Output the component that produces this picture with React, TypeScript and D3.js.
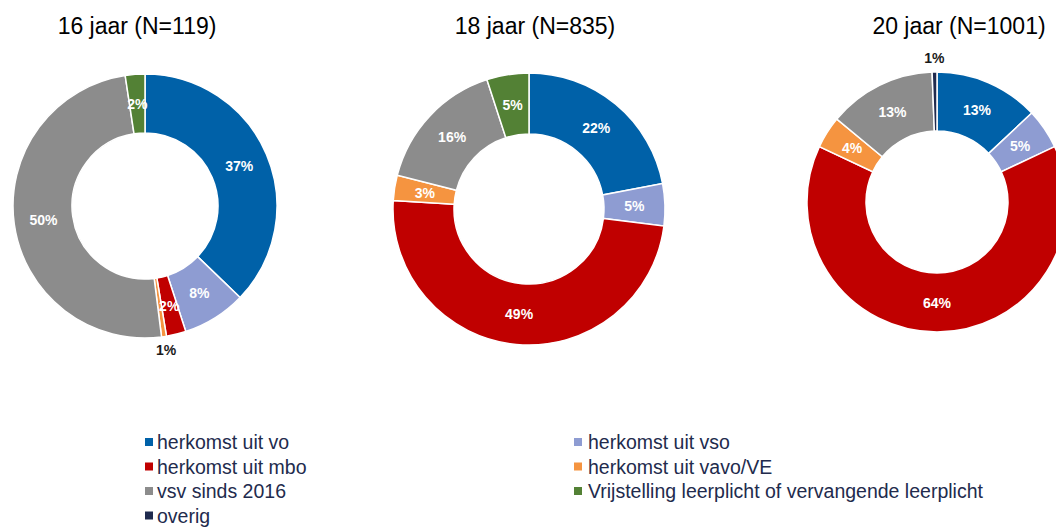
import React, { useEffect } from "react";
import * as d3 from "d3";

const categories = [
  "herkomst uit vo",
  "herkomst uit vso",
  "herkomst uit mbo",
  "herkomst uit vavo/VE",
  "vsv sinds 2016",
  "Vrijstelling leerplicht of vervangende leerplicht",
  "overig",
];
const colors = ["#0061A8", "#8E9CD2", "#C00000", "#F59440", "#8C8C8C", "#538135", "#1F2A4E"];
const titles = ["16 jaar (N=119)", "18 jaar (N=835)", "20 jaar (N=1001)"];
const values16 = [37.2, 7.8, 2.4, 0.6, 49.6, 2.4, 0];
const values18 = [22, 5, 49, 3, 16, 5, 0];
const values20 = [13, 5, 64, 4, 13.4, 0, 0.6];
const seriesValues = [values16, values18, values20];

const layout = [
  { cx: 145, cy: 206, r: 132, ri: 73, tx: 137 },
  { cx: 529, cy: 209, r: 136, ri: 75, tx: 535 },
  { cx: 937, cy: 202, r: 130, ri: 71, tx: 959 },
];

const legendCol1 = [0, 2, 4, 6];
const legendCol2 = [1, 3, 5];

export default function App() {
  useEffect(() => {
    document.body.style.margin = "0";
  }, []);
  const W = 1056;
  const H = 528;
  const pie = d3.pie<number>().sort(null).value((d) => d);

  return (
    <svg width={W} height={H} style={{ display: "block", background: "#fff" }} fontFamily="'Liberation Sans', Arial, sans-serif">
      {seriesValues.map((vals, ci) => {
        const L = layout[ci];
        const arcs = pie(vals);
        const arc = d3.arc<d3.PieArcDatum<number>>().innerRadius(L.ri).outerRadius(L.r);
        const outArc = d3.arc<d3.PieArcDatum<number>>().innerRadius(L.r + 14).outerRadius(L.r + 14);
        return (
          <g key={ci}>
            <text x={L.tx} y={34} textAnchor="middle" fontSize={23} fill="#000">
              {titles[ci]}
            </text>
            <g transform={`translate(${L.cx},${L.cy})`}>
              {arcs.map((a, i) =>
                a.value > 0 ? (
                  <path key={i} d={arc(a) || ""} fill={colors[i]} stroke="#fff" strokeWidth={1.5} />
                ) : null
              )}
              {arcs.map((a, i) => {
                if (a.value <= 0) return null;
                const label = `${Math.round(a.value)}%`;
                const outside = a.value < 1;
                const [x, y] = outside ? outArc.centroid(a) : arc.centroid(a);
                return (
                  <text
                    key={"l" + i}
                    x={x}
                    y={y}
                    textAnchor="middle"
                    dominantBaseline="central"
                    fontSize={14}
                    fontWeight="bold"
                    fill={outside ? "#1a1a1a" : "#fff"}
                  >
                    {label}
                  </text>
                );
              })}
            </g>
          </g>
        );
      })}
      {legendCol1.map((ci, row) => (
        <g key={"a" + ci} transform={`translate(145,${442 + row * 24.5})`}>
          <rect x={0} y={-4} width={8} height={8} fill={colors[ci]} />
          <text x={12} y={0} dominantBaseline="central" fontSize={19.5} fill="#222B4D">
            {categories[ci]}
          </text>
        </g>
      ))}
      {legendCol2.map((ci, row) => (
        <g key={"b" + ci} transform={`translate(574,${442 + row * 24.5})`}>
          <rect x={0} y={-4} width={8} height={8} fill={colors[ci]} />
          <text x={14} y={0} dominantBaseline="central" fontSize={19.5} fill="#222B4D">
            {categories[ci]}
          </text>
        </g>
      ))}
    </svg>
  );
}
